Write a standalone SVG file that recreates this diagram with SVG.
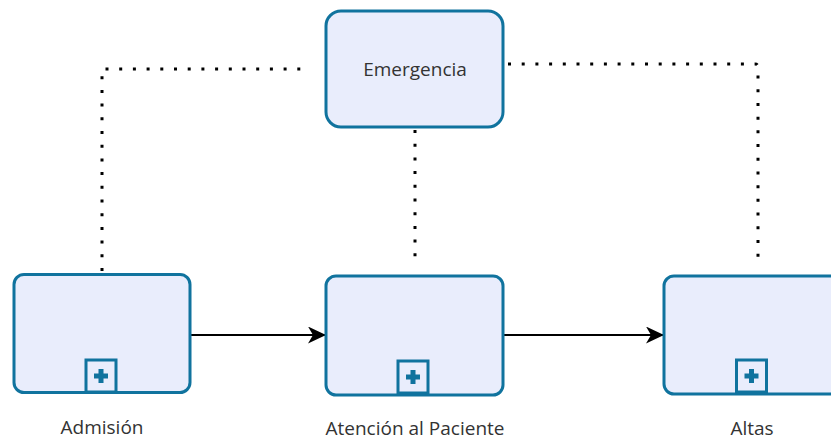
<svg xmlns="http://www.w3.org/2000/svg" width="831" height="441" viewBox="0 0 831 441">
  <style>
    .task { fill: #E9EDFC; stroke: #10739E; stroke-width: 3; }
    .marker-box { fill: #E9EDFC; stroke: #10739E; stroke-width: 3; }
    .plus { fill: #10739E; }
    .label { font-family: "Open Sans", "Noto Sans", "Liberation Sans", sans-serif; font-size: 19px; fill: #333333; text-anchor: middle; }
    .assoc { fill: none; stroke: #000000; stroke-width: 3; stroke-dasharray: 3 10.7; }
    .flow { fill: none; stroke: #000000; stroke-width: 2; }
  </style>
  <defs>
    <marker id="arrow" markerUnits="userSpaceOnUse" viewBox="0 0 18 17" refX="17" refY="8.5" markerWidth="18" markerHeight="17" orient="auto">
      <path d="M0,0 L18,8.5 L0,17 L5,8.5 Z" fill="#000000"/>
    </marker>
    <g id="subprocess-marker">
      <rect class="marker-box" x="-15" y="-16" width="30" height="32"/>
      <rect class="plus" x="-7" y="-2.5" width="14" height="5"/>
      <rect class="plus" x="-2.5" y="-7" width="5" height="14"/>
    </g>
  </defs>

  <rect width="831" height="441" fill="#ffffff"/>

  <!-- connectors -->
  <g id="connectors">
    <path class="assoc" d="M102,271 V69 H304"/>
    <path class="assoc" d="M415,130 V266"/>
    <path class="assoc" d="M508,64 H755 Q758,64 758,67 V258"/>
    <path class="flow" d="M190,335 H325" marker-end="url(#arrow)"/>
    <path class="flow" d="M503,335 H663" marker-end="url(#arrow)"/>
  </g>

  <!-- nodes -->
  <g id="emergencia">
    <rect class="task" x="326" y="11" width="177" height="116" rx="15" ry="15"/>
    <text class="label" x="415" y="76">Emergencia</text>
  </g>

  <g id="admision">
    <rect class="task" x="14" y="274.5" width="176" height="118" rx="10" ry="10"/>
    <use href="#subprocess-marker" x="101" y="376"/>
    <text class="label" x="102" y="434">Admisión</text>
  </g>

  <g id="atencion">
    <rect class="task" x="326" y="276" width="177" height="119" rx="10" ry="10"/>
    <use href="#subprocess-marker" x="413" y="377"/>
    <text class="label" x="415" y="435">Atención al Paciente</text>
  </g>

  <g id="altas">
    <rect class="task" x="664" y="276" width="178" height="118" rx="10" ry="10"/>
    <use href="#subprocess-marker" x="751.5" y="376"/>
    <text class="label" x="752" y="435">Altas</text>
  </g>
</svg>
